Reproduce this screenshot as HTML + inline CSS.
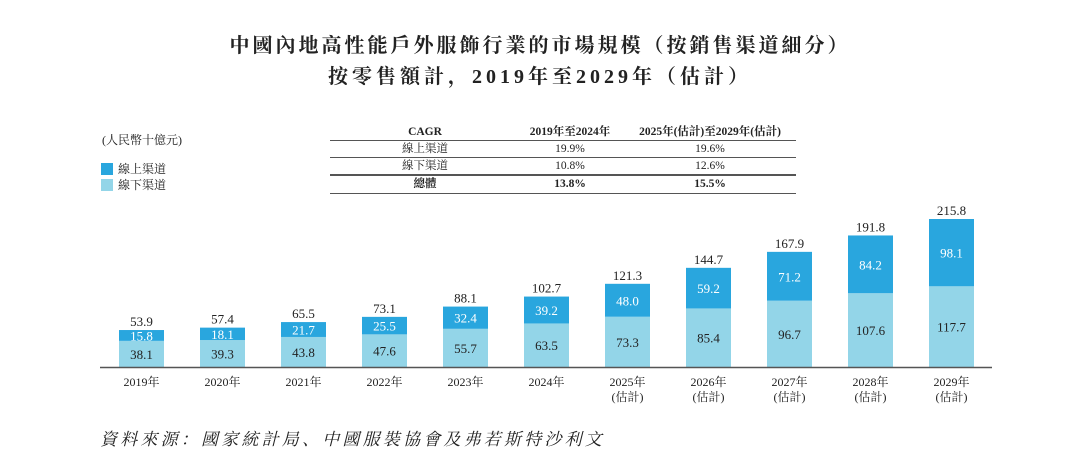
<!DOCTYPE html>
<html><head><meta charset="utf-8"><style>
body{margin:0;background:#fff;width:1080px;height:455px;overflow:hidden;font-family:"Liberation Serif","Noto Serif CJK SC",serif;color:#222}
</style></head><body>
<svg width="1080" height="455" style="position:absolute;left:0;top:0">
<g font-family="Liberation Serif, Noto Serif CJK SC, serif" fill="#222">
<text x="540" y="52" text-anchor="middle" font-size="20" font-weight="bold" letter-spacing="3">中國內地高性能戶外服飾行業的市場規模（按銷售渠道細分）</text>
<text x="540" y="83" text-anchor="middle" font-size="20" font-weight="bold" letter-spacing="4">按零售額計，2019年至2029年（估計）</text>
<text x="102" y="144" font-size="12">(人民幣十億元)</text>
<rect x="101" y="163" width="12" height="12" fill="#29a6de"/>
<text x="118" y="173" font-size="12">線上渠道</text>
<rect x="101" y="179" width="12" height="12" fill="#93d5e8"/>
<text x="118" y="189" font-size="12">線下渠道</text>
<g font-size="11.5">
<text x="425" y="135" text-anchor="middle" font-weight="bold">CAGR</text>
<text x="570" y="135" text-anchor="middle" font-weight="bold">2019年至2024年</text>
<text x="710" y="135" text-anchor="middle" font-weight="bold">2025年(估計)至2029年(估計)</text>
<line x1="330" y1="140.5" x2="796" y2="140.5" stroke="#555"/>
<text x="425" y="152" text-anchor="middle">線上渠道</text><text x="570" y="152" text-anchor="middle">19.9%</text><text x="710" y="152" text-anchor="middle">19.6%</text>
<line x1="330" y1="157.5" x2="796" y2="157.5" stroke="#555"/>
<text x="425" y="169" text-anchor="middle">線下渠道</text><text x="570" y="169" text-anchor="middle">10.8%</text><text x="710" y="169" text-anchor="middle">12.6%</text>
<line x1="330" y1="175" x2="796" y2="175" stroke="#555" stroke-width="2"/>
<text x="425" y="187" text-anchor="middle" font-weight="bold">總體</text><text x="570" y="187" text-anchor="middle" font-weight="bold">13.8%</text><text x="710" y="187" text-anchor="middle" font-weight="bold">15.5%</text>
<line x1="330" y1="193.5" x2="796" y2="193.5" stroke="#555"/>
</g>
<g id="bars"></g>
<line x1="100" y1="367.5" x2="992" y2="367.5" stroke="#555" stroke-width="1.5"/>
<text x="100" y="445" font-size="17" font-style="italic" letter-spacing="3.2">資料來源：國家統計局、中國服裝協會及弗若斯特沙利文</text>
</g>
</svg>
<script>
const categories=["2019年","2020年","2021年","2022年","2023年","2024年","2025年","2026年","2027年","2028年","2029年"];
const estimated=[false,false,false,false,false,false,true,true,true,true,true];
const offline=[38.1,39.3,43.8,47.6,55.7,63.5,73.3,85.4,96.7,107.6,117.7];
const online=[15.8,18.1,21.7,25.5,32.4,39.2,48.0,59.2,71.2,84.2,98.1];
const totals=[53.9,57.4,65.5,73.1,88.1,102.7,121.3,144.7,167.9,191.8,215.8];
const NS="http://www.w3.org/2000/svg";
const base=367, scale=148/215.8;
const xc=i=>141.5+i*81, bw=45;
const y=v=>base-v*scale;
const g=document.getElementById('bars');
function mk(t,a){const e=document.createElementNS(NS,t);for(const k in a)e.setAttribute(k,a[k]);return e;}
categories.forEach((c,i)=>{
  const off=mk('rect',{x:xc(i)-bw/2,y:y(offline[i]),width:bw,height:offline[i]*scale,fill:'#93d5e8'});
  
  
  g.appendChild(off);
  const on=mk('rect',{x:xc(i)-bw/2,y:y(offline[i]+online[i]),width:bw,height:online[i]*scale,fill:'#29a6de'});
  
  
  g.appendChild(on);
  const t1=mk('text',{x:xc(i),y:y(offline[i]/2)+5,'text-anchor':'middle','font-size':13,fill:'#222'});
  t1.textContent=offline[i].toFixed(1);
  
  
  g.appendChild(t1);
  const t2=mk('text',{x:xc(i),y:y(offline[i]+online[i]/2)+5,'text-anchor':'middle','font-size':13,fill:'#fff'});
  t2.textContent=online[i].toFixed(1);
  
  
  g.appendChild(t2);
  const t3=mk('text',{x:xc(i),y:y(offline[i]+online[i])-4,'text-anchor':'middle','font-size':13,fill:'#222'});
  t3.textContent=totals[i].toFixed(1);
  
  
  g.appendChild(t3);
  const l=mk('text',{x:xc(i),y:386,'text-anchor':'middle','font-size':12,fill:'#222'});
  l.textContent=c;
  
  
  g.appendChild(l);
  if(estimated[i]){
    const l2=mk('text',{x:xc(i),y:401,'text-anchor':'middle','font-size':12,fill:'#222'});
    l2.textContent='(估計)';
    
    
    g.appendChild(l2);
  }
});
</script>
</body></html>
